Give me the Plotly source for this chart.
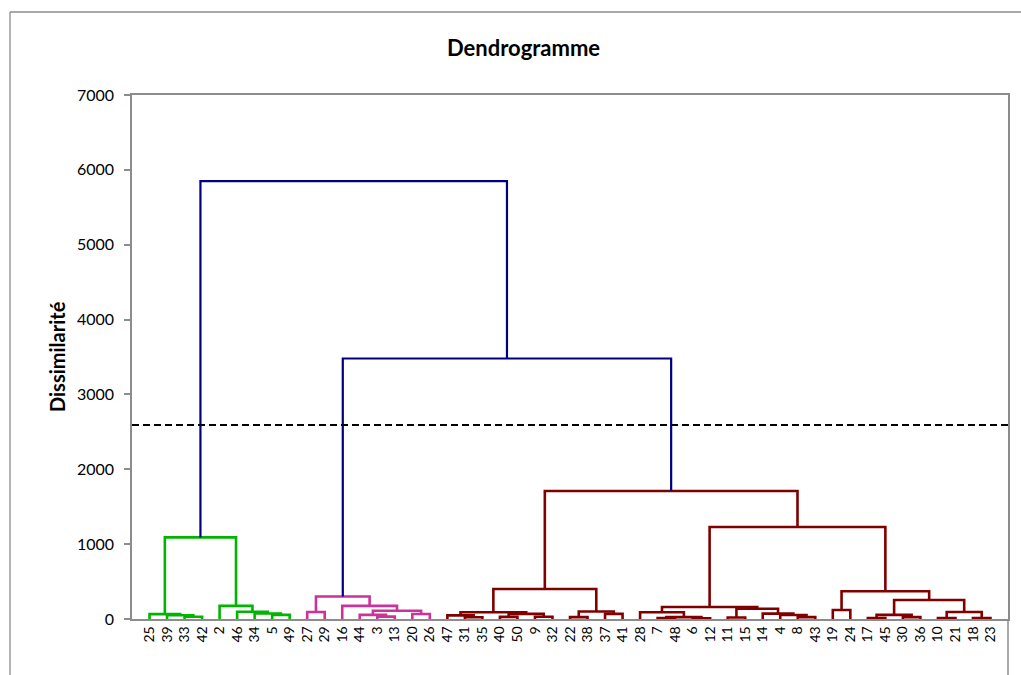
import plotly.graph_objects as go

# ---- data ----
leaf_order = [25, 39, 33, 42, 2, 46, 34, 5, 49, 27, 29, 16, 44, 3, 13, 20, 26,
              47, 31, 35, 40, 50, 9, 32, 22, 38, 37, 41, 28, 7, 48, 6, 12, 11,
              15, 14, 4, 8, 43, 19, 24, 17, 45, 30, 36, 10, 21, 18, 23]

# merges: (node id, left child, right child, dissimilarity)
merge_ids = ["g1", "g2", "g3", "g4", "g5", "g6", "g7", "g8",
             "p1", "p2", "p3", "p4", "p5", "p6", "p7",
             "r1", "r2", "r3", "r4", "r5", "r6", "r7", "r8", "r9", "r10",
             "m1", "m2", "m3", "m4", "m5", "m6", "m7", "m8", "m9", "m10",
             "q1", "q2", "q3", "q4", "q5", "q6", "q7", "q8", "q9", "q10", "q11",
             "b1", "b2"]
merge_left = [33, 39, 25, 5, 34, 46, 2, "g3",
              27, 3, 44, 20, "p3", 16, "p1",
              31, 47, 40, 9, "r3", "r2", 22, 37, "r7", "r6",
              7, 6, "m1", 28, 11, 8, 4, 14, "m5", "m4",
              19, 17, 30, "q2", 10, 18, "q5", "q4", "q1", "m10", "r10",
              "p7", "g8"]
merge_right = [42, "g1", "g2", 49, "g4", "g5", "g6", "g7",
               29, 13, "p2", 26, "p4", "p5", "p6",
               35, "r1", 50, 32, "r4", "r5", 38, 41, "r8", "r9",
               48, 12, "m2", "m3", 15, 43, "m6", "m7", "m8", "m9",
               24, 45, 36, "q3", 21, 23, "q6", "q7", "q8", "q9", "q10",
               "q11", "b1"]
merge_height = [30, 50, 65, 55, 73, 97, 175, 1090,
                93, 32, 55, 66, 110, 176, 300,
                23, 49, 29, 30, 69, 91, 25, 69, 100, 400,
                12, 9, 25, 90, 20, 25, 53, 72, 136, 160,
                120, 12, 25, 55, 12, 14, 94, 254, 370, 1229, 1710,
                3480, 5850]

cut_level = 2590
cluster_colors = ["#00B400", "#CC3399", "#800000"]
upper_color = "#000080"

y_ticks = [0, 1000, 2000, 3000, 4000, 5000, 6000, 7000]

# ---- layout of the tree (positions from leaf order + midpoints) ----
pos = {lab: i + 1 for i, lab in enumerate(leaf_order)}
hgt = {lab: 0 for lab in leaf_order}
members = {lab: [lab] for lab in leaf_order}
for nid, a, b, h in zip(merge_ids, merge_left, merge_right, merge_height):
    pos[nid] = (pos[a] + pos[b]) / 2
    hgt[nid] = h
    members[nid] = members[a] + members[b]

# cluster assignment by cut level
cluster_roots = []
for nid, a, b, h in zip(merge_ids, merge_left, merge_right, merge_height):
    if h > cut_level:
        for c in (a, b):
            if hgt[c] < cut_level and c not in cluster_roots:
                cluster_roots.append(c)
cluster_roots.sort(key=lambda c: min(pos[m] for m in members[c]))
leaf_cluster = {}
for k, c in enumerate(cluster_roots):
    for m in members[c]:
        leaf_cluster[m] = k

segs = {}
for nid, a, b, h in zip(merge_ids, merge_left, merge_right, merge_height):
    if h > cut_level:
        col = upper_color
    else:
        col = cluster_colors[leaf_cluster[members[nid][0]]]
    xs, ys = segs.setdefault(col, ([], []))
    xs += [pos[a], pos[a], pos[b], pos[b], None]
    ys += [hgt[a], h, h, hgt[b], None]

fig = go.Figure()
for col, (xs, ys) in segs.items():
    fig.add_trace(go.Scatter(x=xs, y=ys, mode="lines",
                             line=dict(color=col, width=2.6 if col != upper_color else 2.2),
                             hoverinfo="skip", showlegend=False))

fig.add_shape(type="line", xref="x", yref="y", x0=0, x1=len(leaf_order) + 1,
              y0=cut_level, y1=cut_level,
              line=dict(color="black", width=2, dash="7px,4px"))

# figure geometry (page body margin removed, figure at the window origin)
W, H = 1021, 675
L, T, R, B = 132, 95, 13, 56
PW, PH = W - L - R, H - T - B

def px(xp):
    return (xp - L) / PW

def py(yp):
    return (H - B - yp) / PH

gray = "#8C8C8C"
# outer chart border (left and top edges visible)
fig.add_shape(type="line", xref="paper", yref="paper",
              x0=px(10), x1=px(1030), y0=py(12), y1=py(12),
              line=dict(color=gray, width=1.3), layer="below")
fig.add_shape(type="line", xref="paper", yref="paper",
              x0=px(10), x1=px(10), y0=py(12), y1=py(700),
              line=dict(color=gray, width=1.3), layer="below")
# right border of plot area extends down
fig.add_shape(type="line", xref="paper", yref="paper", x0=1, x1=1,
              y0=0, y1=py(700), line=dict(color=gray, width=1.5))

fig.update_layout(
    width=W, height=H,
    margin=dict(l=L, r=R, t=T, b=B),
    paper_bgcolor="white", plot_bgcolor="white",
    font=dict(family="Lato, Open Sans, sans-serif", color="black"),
    showlegend=False,
    annotations=[
        dict(text="<b>Dendrogramme</b>", xref="paper", yref="paper",
             x=px(523), y=py(48), showarrow=False,
             xanchor="center", yanchor="middle", font=dict(size=22)),
        dict(text="<b>Dissimilarité</b>", xref="paper", yref="paper",
             x=px(57), y=py(357), showarrow=False, textangle=-90,
             xanchor="center", yanchor="middle", font=dict(size=20)),
    ],
)
fig.update_xaxes(range=[0, len(leaf_order) + 1], tickmode="array",
                 tickvals=list(range(1, len(leaf_order) + 1)),
                 ticktext=[str(v) for v in leaf_order], tickangle=-90,
                 ticks="", showgrid=False, zeroline=False,
                 showline=True, linecolor=gray, linewidth=1.5, mirror=True,
                 tickfont=dict(size=14), automargin=False)
fig.update_yaxes(range=[0, 7000], tickmode="array", tickvals=y_ticks,
                 ticks="outside", ticklen=6, tickcolor=gray, tickwidth=1.5,
                 ticklabelstandoff=7,
                 showgrid=False, zeroline=False,
                 showline=True, linecolor=gray, linewidth=1.5, mirror=True,
                 tickfont=dict(size=16), automargin=False)

fig.write_html(
    "out.html",
    config={"displayModeBar": False},
    post_script="document.body.style.margin='0px';"
                "document.documentElement.style.overflow='hidden';"
                "document.body.style.overflow='hidden';",
)
